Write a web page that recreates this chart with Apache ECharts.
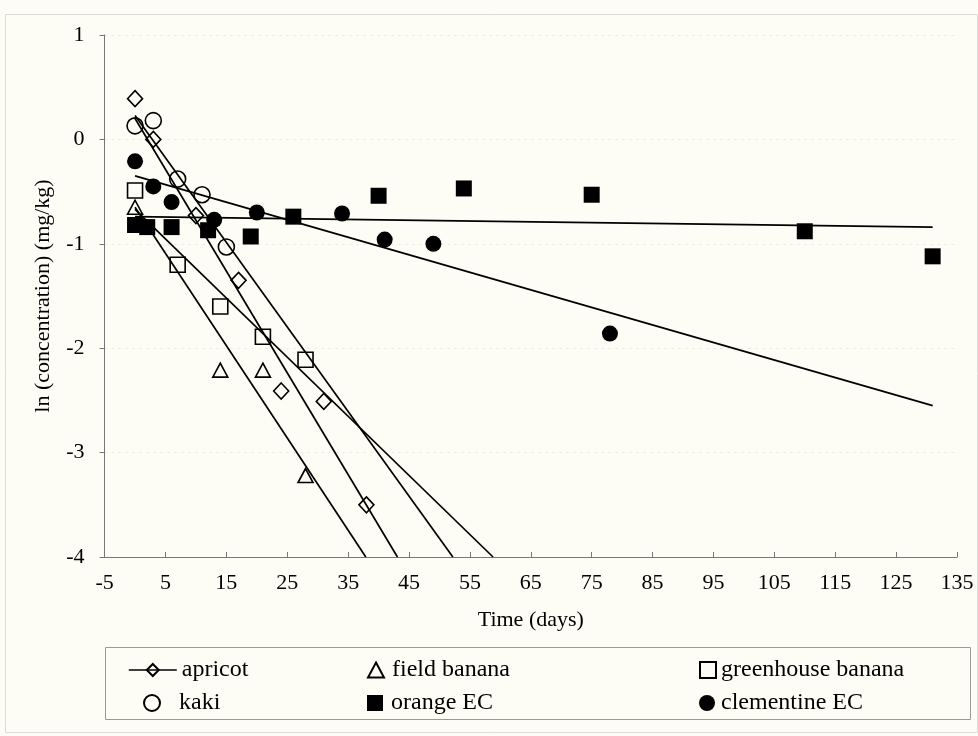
<!DOCTYPE html>
<html><head><meta charset="utf-8">
<script src="https://cdn.jsdelivr.net/npm/echarts@6/dist/echarts.min.js"></script>
<style>html,body{margin:0;padding:0;background:#fdfdf6;} #c{width:978px;height:736px;}</style>
</head><body><div id="c"></div>
<script>
// measured data (time in days, ln concentration)
const apricot = [[0,0.39],[3,0.0],[10,-0.73],[17,-1.35],[24,-2.41],[31,-2.51],[38,-3.50]];
const fieldBanana = [[0,-0.65],[14,-2.21],[21,-2.21],[28,-3.22]];
const greenhouseBanana = [[0,-0.49],[7,-1.20],[14,-1.60],[21,-1.89],[28,-2.11]];
const kaki = [[0,0.13],[3,0.18],[7,-0.38],[11,-0.53],[15,-1.03]];
const orangeEC = [[0,-0.82],[2,-0.84],[6,-0.84],[12,-0.87],[19,-0.93],[26,-0.74],[40,-0.54],[54,-0.47],[75,-0.53],[110,-0.88],[131,-1.12]];
const clementineEC = [[0,-0.21],[3,-0.45],[6,-0.60],[13,-0.77],[20,-0.70],[34,-0.71],[41,-0.96],[49,-1.00],[78,-1.86]];
// regression lines (endpoints)
const apricotFit = [[0,0.20],[43.1,-4]];
const fieldBananaFit = [[0,-0.65],[37.9,-4]];
const greenhouseFit = [[0,-0.67],[58.8,-4]];
const kakiFit = [[0,0.23],[52.2,-4]];
const orangeFit = [[0,-0.74],[131,-0.84]];
const clementineFit = [[0,-0.35],[131,-2.55]];
// axes
const xMin = -5, xMax = 135, xStep = 10;
const yMin = -4, yMax = 1, yStep = 1;
const names = ['apricot','field banana','greenhouse banana','kaki','orange EC','clementine EC'];

const FONT = '"Liberation Serif", "Times New Roman", serif';
const hollow = {color:'rgba(0,0,0,0)', borderColor:'#000', borderWidth:1.6, opacity:1};
const filled = {color:'#000', borderColor:'#000', borderWidth:0, opacity:1};

function fit(d){
  return {type:'line', data:d, symbol:'none', silent:true, z:2,
    lineStyle:{color:'#000', width:1.7}, emphasis:{disabled:true}};
}
function legendItem(name, left, top, extra, pad){
  return Object.assign({
    data:[name], left:left, top:top, itemWidth:16, itemHeight:16,
    textStyle:{fontFamily:FONT, fontSize:24, color:'#000', padding:[0,0,0,pad||0]},
    selectedMode:false
  }, extra||{});
}

const chart = echarts.init(document.getElementById('c'));
chart.setOption({
  backgroundColor:'#fdfdf6',
  animation:false,
  grid:{left:104.6, right:21, top:35, bottom:179, containLabel:false},
  xAxis:{type:'value', min:xMin, max:xMax, interval:xStep,
    name:'Time (days)', nameLocation:'middle', nameGap:52,
    nameTextStyle:{fontFamily:FONT, fontSize:22, color:'#000'},
    axisLine:{onZero:false, lineStyle:{color:'#777', width:1}},
    axisTick:{show:true, length:5, inside:true, lineStyle:{color:'#777'}},
    axisLabel:{fontFamily:FONT, fontSize:22, color:'#000', margin:15},
    splitLine:{show:false}},
  yAxis:{type:'value', min:yMin, max:yMax, interval:yStep,
    name:'ln (concentration) (mg/kg)', nameLocation:'middle', nameGap:50,
    nameTextStyle:{fontFamily:FONT, fontSize:22, color:'#000'},
    axisLine:{show:true, onZero:false, lineStyle:{color:'#777', width:1}},
    axisTick:{show:true, length:5, lineStyle:{color:'#777'}},
    axisLabel:{fontFamily:FONT, fontSize:22, color:'#000', margin:20},
    splitLine:{show:true, lineStyle:{color:'#e6e6de', width:1, type:[2,5]}}},
  legend:[
    legendItem('apricot', 123, 653, {itemWidth:48, itemHeight:15,
      lineStyle:{color:'#000', width:1.6, opacity:1, type:'solid'}}),
    legendItem('field banana', 362, 653, {itemWidth:16, itemHeight:15}, 3),
    legendItem('greenhouse banana', 694, 653),
    legendItem('kaki', 138, 686, null, 14),
    legendItem('orange EC', 362, 686, null, 3),
    legendItem('clementine EC', 694, 686, null, 1)
  ],
  graphic:[
    {type:'rect', left:103, top:645, shape:{width:865, height:72},
      style:{fill:'none', stroke:'#9a9a9a', lineWidth:1}, silent:true},
    {type:'rect', left:3, top:12, shape:{width:972, height:718},
      style:{fill:'none', stroke:'#dcdcd6', lineWidth:1}, silent:true}
  ],
  series:[
    {name:'apricot', type:'line', data:apricot, symbol:'diamond', symbolSize:[15,16],
      showSymbol:true, lineStyle:{opacity:0, width:0}, itemStyle:hollow, z:5, emphasis:{disabled:true}},
    {name:'field banana', type:'scatter', data:fieldBanana, symbol:'triangle', symbolSize:[15,14], itemStyle:hollow, z:5},
    {name:'greenhouse banana', type:'scatter', data:greenhouseBanana, symbol:'rect', symbolSize:15, itemStyle:hollow, z:5},
    {name:'kaki', type:'scatter', data:kaki, symbol:'circle', symbolSize:16, itemStyle:hollow, z:5},
    {name:'orange EC', type:'scatter', data:orangeEC, symbol:'rect', symbolSize:16, itemStyle:filled, z:5},
    {name:'clementine EC', type:'scatter', data:clementineEC, symbol:'circle', symbolSize:16, itemStyle:filled, z:5},
    fit(apricotFit), fit(fieldBananaFit), fit(greenhouseFit), fit(kakiFit), fit(orangeFit), fit(clementineFit)
  ]
});
</script></body></html>
